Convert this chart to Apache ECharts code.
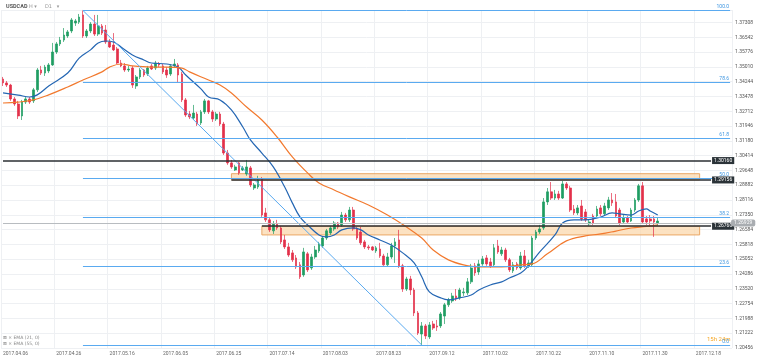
<!DOCTYPE html>
<html><head><meta charset="utf-8">
<script src="https://cdn.jsdelivr.net/npm/echarts@6/dist/echarts.min.js"></script>
<style>html,body{margin:0;padding:0;background:#fff}#c{width:760px;height:360px}</style>
</head><body><div id="c"></div>
<script>
// ---- data (USDCAD D1) ----
const tickLabels = ['2017.04.06','2017.04.26','2017.05.16','2017.06.05','2017.06.25','2017.07.14','2017.08.03','2017.08.23','2017.09.12','2017.10.02','2017.10.22','2017.11.10','2017.11.30','2017.12.18'];
const opens = [1.3438,1.3418,1.3407,1.3335,1.3309,1.3247,1.3319,1.3335,1.3325,1.3382,1.3485,1.3469,1.3480,1.3511,1.3578,1.3620,1.3640,1.3661,1.3687,1.3728,1.3733,1.3770,1.3661,1.3687,1.3723,1.3671,1.3713,1.3692,1.3630,1.3614,1.3594,1.3521,1.3506,1.3485,1.3495,1.3402,1.3449,1.3485,1.3464,1.3506,1.3495,1.3516,1.3506,1.3485,1.3464,1.3506,1.3511,1.3464,1.3330,1.3257,1.3236,1.3257,1.3211,1.3268,1.3325,1.3268,1.3231,1.3257,1.3205,1.3055,1.3004,1.2967,1.3004,1.2967,1.2947,1.2978,1.2874,1.2879,1.2921,1.2745,1.2709,1.2652,1.2688,1.2667,1.2605,1.2569,1.2538,1.2512,1.2476,1.2424,1.2533,1.2460,1.2517,1.2548,1.2574,1.2615,1.2641,1.2662,1.2693,1.2683,1.2734,1.2709,1.2760,1.2662,1.2646,1.2595,1.2569,1.2569,1.2548,1.2558,1.2522,1.2476,1.2517,1.2574,1.2605,1.2471,1.2351,1.2403,1.2346,1.2227,1.2118,1.2160,1.2103,1.2170,1.2160,1.2160,1.2211,1.2269,1.2289,1.2315,1.2305,1.2331,1.2331,1.2388,1.2471,1.2439,1.2481,1.2512,1.2491,1.2476,1.2574,1.2533,1.2553,1.2502,1.2445,1.2481,1.2460,1.2522,1.2471,1.2476,1.2615,1.2646,1.2667,1.2802,1.2854,1.2822,1.2843,1.2822,1.2895,1.2874,1.2765,1.2745,1.2781,1.2750,1.2688,1.2729,1.2729,1.2771,1.2740,1.2771,1.2812,1.2802,1.2760,1.2698,1.2719,1.2703,1.2760,1.2812,1.2885,1.2714,1.2714,1.2714,1.2693];
const closes = [1.3418,1.3407,1.3335,1.3309,1.3247,1.3319,1.3335,1.3319,1.3382,1.3485,1.3469,1.3500,1.3511,1.3578,1.3620,1.3640,1.3666,1.3682,1.3744,1.3739,1.3759,1.3661,1.3687,1.3723,1.3671,1.3713,1.3676,1.3630,1.3604,1.3589,1.3521,1.3506,1.3485,1.3490,1.3407,1.3449,1.3485,1.3459,1.3495,1.3490,1.3521,1.3511,1.3475,1.3459,1.3506,1.3516,1.3459,1.3330,1.3252,1.3242,1.3262,1.3205,1.3268,1.3325,1.3268,1.3231,1.3257,1.3205,1.3055,1.3004,1.2983,1.2983,1.2952,1.2978,1.2983,1.2890,1.2890,1.2916,1.2734,1.2709,1.2657,1.2688,1.2667,1.2595,1.2569,1.2527,1.2502,1.2465,1.2414,1.2543,1.2450,1.2517,1.2553,1.2584,1.2615,1.2652,1.2667,1.2693,1.2672,1.2734,1.2709,1.2760,1.2662,1.2615,1.2590,1.2569,1.2564,1.2553,1.2564,1.2522,1.2476,1.2517,1.2574,1.2595,1.2471,1.2351,1.2403,1.2346,1.2227,1.2123,1.2160,1.2108,1.2165,1.2149,1.2154,1.2222,1.2269,1.2295,1.2315,1.2300,1.2346,1.2336,1.2388,1.2460,1.2434,1.2481,1.2507,1.2481,1.2471,1.2564,1.2543,1.2553,1.2502,1.2450,1.2476,1.2460,1.2522,1.2471,1.2486,1.2615,1.2646,1.2662,1.2802,1.2854,1.2822,1.2843,1.2822,1.2895,1.2874,1.2760,1.2745,1.2771,1.2714,1.2709,1.2698,1.2693,1.2765,1.2740,1.2781,1.2812,1.2797,1.2729,1.2693,1.2719,1.2698,1.2760,1.2812,1.2885,1.2698,1.2698,1.2703,1.2698,1.2703];
const lows = [1.3402,1.3397,1.3325,1.3299,1.3231,1.3226,1.3309,1.3309,1.3314,1.3371,1.3459,1.3454,1.3469,1.3506,1.3568,1.3609,1.3630,1.3651,1.3676,1.3713,1.3723,1.3651,1.3651,1.3676,1.3661,1.3661,1.3666,1.3620,1.3599,1.3583,1.3516,1.3500,1.3475,1.3475,1.3392,1.3387,1.3438,1.3449,1.3454,1.3485,1.3485,1.3500,1.3464,1.3444,1.3454,1.3495,1.3423,1.3319,1.3242,1.3231,1.3226,1.3195,1.3200,1.3257,1.3257,1.3216,1.3221,1.3195,1.3045,1.2994,1.2973,1.2962,1.2942,1.2962,1.2937,1.2879,1.2864,1.2869,1.2724,1.2698,1.2646,1.2636,1.2657,1.2584,1.2558,1.2517,1.2491,1.2455,1.2403,1.2414,1.2439,1.2450,1.2507,1.2538,1.2564,1.2605,1.2631,1.2652,1.2662,1.2672,1.2698,1.2698,1.2652,1.2605,1.2579,1.2558,1.2553,1.2548,1.2538,1.2512,1.2471,1.2465,1.2507,1.2486,1.2460,1.2336,1.2341,1.2320,1.2211,1.2113,1.2061,1.2092,1.2092,1.2139,1.2134,1.2149,1.2170,1.2258,1.2279,1.2289,1.2295,1.2315,1.2320,1.2377,1.2419,1.2424,1.2471,1.2471,1.2460,1.2465,1.2533,1.2522,1.2491,1.2439,1.2434,1.2450,1.2450,1.2460,1.2460,1.2465,1.2605,1.2636,1.2657,1.2786,1.2812,1.2812,1.2812,1.2817,1.2864,1.2750,1.2734,1.2734,1.2703,1.2698,1.2678,1.2683,1.2719,1.2729,1.2729,1.2760,1.2781,1.2719,1.2683,1.2688,1.2688,1.2698,1.2750,1.2802,1.2688,1.2683,1.2678,1.2621,1.2678];
const highs = [1.3449,1.3428,1.3413,1.3345,1.3325,1.3330,1.3345,1.3345,1.3392,1.3495,1.3506,1.3511,1.3521,1.3625,1.3630,1.3656,1.3702,1.3692,1.3754,1.3749,1.3775,1.3793,1.3697,1.3733,1.3770,1.3770,1.3723,1.3718,1.3645,1.3676,1.3604,1.3537,1.3521,1.3506,1.3506,1.3459,1.3495,1.3490,1.3506,1.3516,1.3532,1.3526,1.3516,1.3500,1.3516,1.3542,1.3521,1.3475,1.3340,1.3273,1.3304,1.3268,1.3278,1.3335,1.3330,1.3278,1.3268,1.3268,1.3216,1.3071,1.3019,1.2994,1.3009,1.2988,1.3019,1.2988,1.2900,1.2937,1.2931,1.2771,1.2724,1.2703,1.2709,1.2678,1.2631,1.2590,1.2553,1.2527,1.2491,1.2564,1.2543,1.2533,1.2574,1.2595,1.2626,1.2662,1.2678,1.2703,1.2698,1.2750,1.2745,1.2776,1.2776,1.2672,1.2672,1.2605,1.2579,1.2574,1.2574,1.2590,1.2533,1.2538,1.2590,1.2615,1.2657,1.2481,1.2414,1.2419,1.2357,1.2237,1.2180,1.2170,1.2180,1.2186,1.2191,1.2232,1.2279,1.2305,1.2331,1.2351,1.2357,1.2357,1.2408,1.2481,1.2486,1.2502,1.2522,1.2527,1.2512,1.2584,1.2605,1.2569,1.2564,1.2512,1.2491,1.2491,1.2543,1.2553,1.2502,1.2626,1.2657,1.2683,1.2822,1.2874,1.2905,1.2864,1.2859,1.2910,1.2905,1.2885,1.2786,1.2786,1.2812,1.2765,1.2709,1.2740,1.2781,1.2786,1.2797,1.2828,1.2848,1.2843,1.2771,1.2734,1.2729,1.2771,1.2822,1.2895,1.2905,1.2729,1.2734,1.2729,1.2719];
const ema21 = [[0,1.3366],[4,1.3355],[7,1.3345],[9,1.3356],[12,1.3402],[17,1.3469],[20,1.3546],[23,1.3589],[25,1.3625],[27,1.3635],[29,1.3630],[31,1.3604],[34,1.3563],[37,1.3537],[39,1.3521],[43,1.3516],[46,1.3500],[48,1.3459],[52,1.3387],[54,1.3345],[57,1.3330],[60,1.3278],[63,1.3190],[65,1.3123],[68,1.3055],[71,1.2983],[74,1.2879],[76,1.2797],[78,1.2724],[80,1.2683],[83,1.2631],[85,1.2621],[87,1.2631],[89,1.2657],[92,1.2667],[94,1.2657],[96,1.2631],[99,1.2605],[102,1.2579],[105,1.2538],[108,1.2486],[110,1.2414],[112,1.2336],[115,1.2305],[117,1.2295],[120,1.2305],[123,1.2320],[125,1.2346],[128,1.2372],[131,1.2388],[133,1.2408],[136,1.2434],[138,1.2470],[141,1.2543],[145,1.2631],[147,1.2693],[150,1.2709],[153,1.2709],[157,1.2724],[160,1.2745],[162,1.2740],[165,1.2734],[167,1.2755],[169,1.2766],[170,1.2755],[172,1.2734]];
const ema55 = [[0,1.3314],[4,1.3319],[8,1.3330],[12,1.3356],[17,1.3397],[21,1.3433],[26,1.3475],[28,1.3500],[31,1.3516],[34,1.3506],[39,1.3500],[43,1.3500],[47,1.3495],[49,1.3475],[54,1.3433],[57,1.3407],[60,1.3366],[64,1.3293],[68,1.3226],[72,1.3138],[76,1.3035],[80,1.2952],[83,1.2900],[87,1.2864],[91,1.2828],[96,1.2786],[101,1.2734],[106,1.2672],[110,1.2615],[113,1.2553],[117,1.2502],[121,1.2476],[125,1.2465],[131,1.2465],[136,1.2476],[139,1.2481],[143,1.2533],[148,1.2600],[153,1.2626],[157,1.2636],[161,1.2651],[165,1.2667],[169,1.2675],[172,1.2683]];
const fibLevels = [1.3793,1.3422,1.3131,1.2927,1.2723,1.2470,1.2061];
const fibNames = ['100.0','78.6','61.8','50.0','38.2','23.6','0.0'];
const levelValues = [1.3016,1.29156,1.2676];
const levelLabels = ['1.30160','1.29156','1.26760'];
const levelStarts = [0,60,68];
const zones = [[60,1.2948,183,1.29156],[68,1.2676,183,1.2631]];
const lastPrice = 1.26929;

// ---- layout helpers ----
const nCats = 192;
const cats = Array.from({length:nCats},(_,i)=>'b'+i);
const candles = opens.map((o,i)=>[o,closes[i],lows[i],highs[i]]);
const fibStart = 21, fibEnd = 191, lowIdx = 110;
const fibBlue = '#5aaaf0';

const fibLines = fibLevels.map((v,k)=>[
  {coord:[fibStart,v], label:{show:true, formatter:fibNames[k]}},
  {coord:[fibEnd,v]}
]);
fibLines.push([{coord:[fibStart,fibLevels[0]], label:{show:false}},{coord:[lowIdx,fibLevels[6]]}]);

const blackLines = levelValues.map((v,k)=>[
  {coord:[levelStarts[k],v], label:{show:true, formatter:levelLabels[k]}},
  {coord:[186,v]}
]);

const chart = echarts.init(document.getElementById('c'));
chart.setOption({
  animation:false,
  backgroundColor:'#fff',
  grid:{left:1,right:28,top:10,bottom:12},
  xAxis:{
    type:'category', data:cats, boundaryGap:true,
    axisLine:{show:false}, axisTick:{show:false},
    axisLabel:{interval:13, align:'left', fontSize:5, color:'#666', margin:3, fontFamily:'Roboto',
      formatter:(v,i)=> tickLabels[Math.round(i/14)] || ''},
    splitLine:{show:true, interval:13, lineStyle:{color:'#eef0f3',width:1}}
  },
  yAxis:{
    type:'value', position:'right', min:1.20456, max:1.37955, interval:0.00766,
    axisLine:{show:false}, axisTick:{show:false},
    axisLabel:{fontSize:5, color:'#555', margin:3, align:'left', showMaxLabel:false, fontFamily:'Roboto',
      formatter:v=>v.toFixed(5)},
    splitLine:{lineStyle:{color:'#eef0f3',width:1}}
  },
  series:[
    {type:'line', data:[], z:1, silent:true,
     markArea:{silent:true, itemStyle:{color:'rgba(251,214,168,0.7)', borderColor:'#eaa766', borderWidth:1},
       data: zones.map(z=>[{coord:[z[0],z[1]]},{coord:[z[2],z[3]]}])},
     markLine:{silent:true, symbol:['none','none'],
       lineStyle:{color:fibBlue, width:1, type:'solid'},
       label:{position:'insideEndTop', fontSize:5, color:'#3d95e0', distance:1, fontFamily:'Roboto'},
       data: fibLines}
    },
    {type:'candlestick', data:candles, z:2, barWidth:2.2,
     itemStyle:{color:'#1f9d63', color0:'#e3304a', borderColor:'#1f9d63', borderColor0:'#e3304a', borderWidth:0.7}
    },
    {type:'line', name:'EMA (21, 0)', data:ema21, smooth:0.4, symbol:'none', z:3,
     lineStyle:{color:'#2466b3', width:1.2}},
    {type:'line', name:'EMA (55, 0)', data:ema55, smooth:0.4, symbol:'none', z:3,
     lineStyle:{color:'#f2792e', width:1.2}},
    {type:'line', data:[], z:4, silent:true,
     markLine:{silent:true, symbol:['none','none'],
       lineStyle:{color:'#2b2f33', width:1.6, type:'solid'},
       label:{position:'end', distance:1, fontSize:5, color:'#fff', backgroundColor:'#2b3338',
         padding:[1,2], fontFamily:'Roboto'},
       data: blackLines.concat([[
         {coord:[0,lastPrice], lineStyle:{color:'#b8bcc0',width:1},
          label:{show:true, formatter:lastPrice.toFixed(5), backgroundColor:'#a9adb1', color:'#fff', padding:[1,3], borderRadius:2}},
         {coord:[191,lastPrice]}
       ]])}
    }
  ],
  graphic:[
    {type:'text', left:6, top:4, style:{text:'USDCAD', fontSize:5.5, fontWeight:'bold', fill:'#555', fontFamily:'Roboto'}},
    {type:'text', left:29, top:4, style:{text:'H ▾', fontSize:5, fill:'#999', fontFamily:'DejaVu Sans'}},
    {type:'text', left:45, top:4, style:{text:'D1   ▾', fontSize:5, fill:'#999', fontFamily:'DejaVu Sans'}},
    {type:'text', left:3, top:335, style:{text:'⊠ × EMA (21, 0)', fontSize:4.5, fill:'#888', fontFamily:'DejaVu Sans'}},
    {type:'text', left:3, top:341, style:{text:'⊠ × EMA (55, 0)', fontSize:4.5, fill:'#888', fontFamily:'DejaVu Sans'}},
    {type:'text', left:707, top:336, style:{text:'15h 24m', fontSize:6, fill:'#f5a623', fontFamily:'Roboto'}}
  ]
});
</script></body></html>
